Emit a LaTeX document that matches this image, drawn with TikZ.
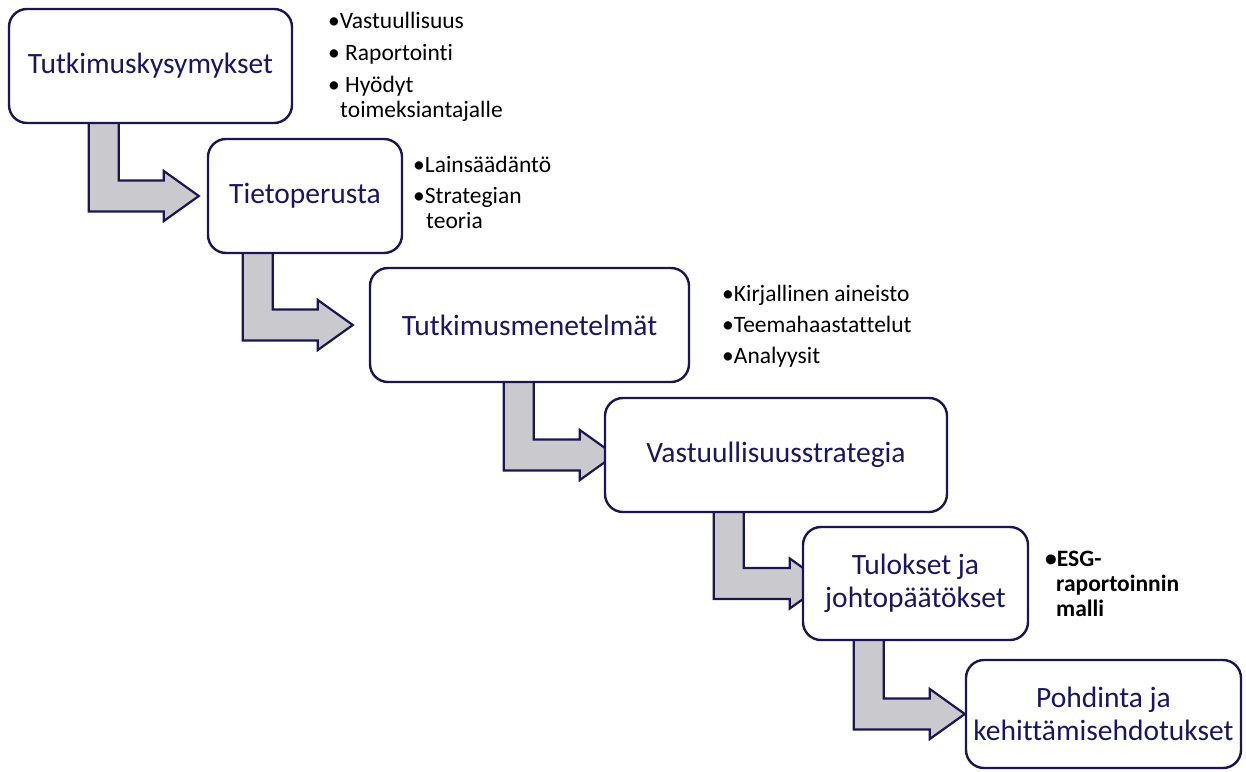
\documentclass[tikz,border=0pt]{standalone}
\usepackage{fontspec}
\setmainfont[Ligatures=NoCommon]{Carlito}
\usetikzlibrary{calc}
\pgfdeclarelayer{background}
\pgfsetlayers{background,main}
\definecolor{framenavy}{HTML}{1B1650}
\definecolor{textnavy}{HTML}{1A1660}
\definecolor{arrowgrey}{HTML}{C9C9CE}
\tikzset{
  stagebox/.style={draw=framenavy, line width=2.4pt, fill=white,
    rounded corners=18pt, inner sep=0pt, align=center, text=textnavy,
    font=\fontsize{29.5}{33}\selectfont},
  bendarrow/.style={draw=framenavy, line width=2.2pt, fill=arrowgrey, line join=miter},
  noteline/.style={anchor=base west, inner sep=0pt,
    font=\fontsize{23.5}{26}\selectfont, text=black},
  notebold/.style={noteline, font=\fontsize{23.5}{26}\selectfont\bfseries},
}
% L-shaped block arrow from the bottom of #1 to the left side of #2;
% #3 = stem offset from the left edge of #1, #4 = tip offset from the west of #2
\newcommand\bendflow[4]{%
  \begin{pgfonlayer}{background}
  \draw[bendarrow] let \p1=($(#1.south west)+(#3,0)$), \p2=($(#2.west)+(#4,0)$) in
    (\x1,\y1+6pt) -- (\x1,\y2-15.5pt) -- (\x2-35pt,\y2-15.5pt) -- (\x2-35pt,\y2-25pt)
    -- (\x2,\y2) -- (\x2-35pt,\y2+25pt) -- (\x2-35pt,\y2+15.5pt)
    -- (\x1+30pt,\y2+15.5pt) -- (\x1+30pt,\y1+6pt) -- cycle;
  \end{pgfonlayer}}
\begin{document}
\begin{tikzpicture}[x=1pt,y=-1pt]
\useasboundingbox (0,0) rectangle (1246,771);

% stages
\node[stagebox, minimum width=283pt, minimum height=114pt] (q) at (150.5,66) {Tutkimuskysymykset};
\node[stagebox, minimum width=194pt, minimum height=114pt] (t) at (305,196) {Tietoperusta};
\node[stagebox, minimum width=319pt, minimum height=114pt] (m) at (529.5,325) {Tutkimusmenetelmät};
\node[stagebox, minimum width=342pt, minimum height=114pt] (v) at (776,455) {Vastuullisuusstrategia};
\node[stagebox, minimum width=225pt, minimum height=113pt] (r) at (915.5,583.5) {Tulokset ja\\johtopäätökset};
\node[stagebox, minimum width=275pt, minimum height=108pt] (p) at (1103.5,714) {Pohdinta ja\\kehittämisehdotukset};

% flow arrows
\bendflow{q}{t}{81}{-8}
\bendflow{t}{m}{36}{-16}
\bendflow{m}{v}{135}{11}
\bendflow{v}{r}{110}{23}
\bendflow{r}{p}{52}{0}

% notes beside the stages
\node[noteline] (q1) at (328,28) {\textbullet Vastuullisuus};
\node[noteline] (q2) at (328,60) {\textbullet\ Raportointi};
\node[noteline] (q3) at (328,92) {\textbullet\ Hyödyt};
\node[noteline] (q4) at (340,117) {toimeksiantajalle};

\node[noteline] (t1) at (413,172) {\textbullet Lainsäädäntö};
\node[noteline] (t2) at (413,203) {\textbullet Strategian};
\node[noteline] (t3) at (426,228) {teoria};

\node[noteline] (m1) at (722,301) {\textbullet Kirjallinen aineisto};
\node[noteline] (m2) at (722,332) {\textbullet Teemahaastattelut};
\node[noteline] (m3) at (722,363) {\textbullet Analyysit};

\node[notebold] (r1) at (1045,566) {\textbullet ESG-};
\node[notebold] (r2) at (1056,591) {raportoinnin};
\node[notebold] (r3) at (1056,616) {malli};
\end{tikzpicture}
\end{document}
